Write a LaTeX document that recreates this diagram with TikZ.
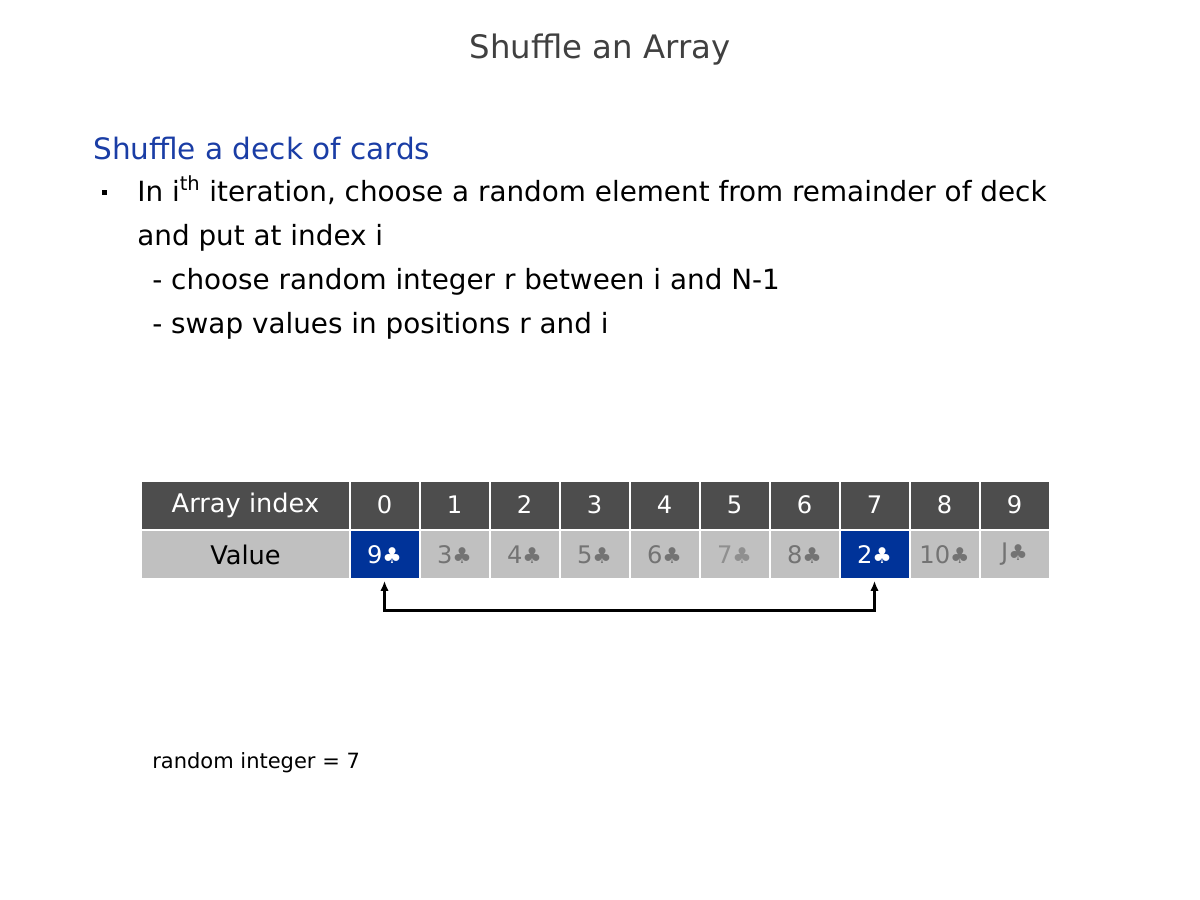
\documentclass[tikz,border=0pt]{standalone}
\usepackage{fontspec}
\setmainfont{DejaVu Sans}
\newfontfamily\symfont{DejaVu Sans}
\usetikzlibrary{arrows.meta}
\definecolor{hdr}{HTML}{4D4D4D}
\definecolor{valbg}{HTML}{C0C0C0}
\definecolor{valtx}{HTML}{737373}
\definecolor{hiblue}{HTML}{003399}
\definecolor{headblue}{HTML}{1A3DA5}
\definecolor{titlegray}{HTML}{404040}
\newcommand{\club}{{\symfont\scalebox{0.9}{♣}}}
\tikzset{
  cell/.style={minimum width=40.8pt, minimum height=28.2pt, inner sep=0pt, font=\fontsize{14.5}{16}\selectfont},
  hcell/.style={cell, fill=hdr, text=white},
  vcell/.style={cell, fill=valbg, text=valtx},
  hicell/.style={cell, fill=hiblue, text=white},
  bodytext/.style={anchor=base west, inner sep=0pt, font=\fontsize{16.7}{20}\selectfont},
}
\begin{document}
\begin{tikzpicture}[x=0.6pt, y=-0.6pt]
\useasboundingbox (0,0) rectangle (1200,900);
\node[anchor=base, inner sep=0pt, text=titlegray, font=\fontsize{19.4}{22}\selectfont] (title) at (600,58) {Shuffle an Array};
\node[bodytext, text=headblue, font=\fontsize{17.7}{22}\selectfont] (sub) at (93,159) {Shuffle a deck of cards};
\node[fill=black, minimum size=3pt, inner sep=0pt] (bullet) at (104,192) {};
\node[bodytext] (l1) at (137,201) {In i\textsuperscript{th} iteration, choose a random element from remainder of deck};
\node[bodytext] (l2) at (137,245) {and put at index i};
\node[bodytext] (l3) at (152,289) {- choose random integer r between i and N-1};
\node[bodytext] (l4) at (152,333) {- swap values in positions r and i};
% table
\node[hcell, minimum width=124.2pt, font=\fontsize{15.4}{17}\selectfont] (hlabel) at (245.5,505) {Array index};
\node[vcell, minimum width=124.2pt, text=black, font=\fontsize{15.4}{17}\selectfont] (vlabel) at (245.5,554.5) {Value};
\foreach \i in {0,...,9} {
  \node[hcell] (h\i) at ({384.5+70*\i},505) {\i};
}
\node[hicell] (v0) at (384.5,554.5) {9\club};
\node[vcell] (v1) at (454.5,554.5) {3\club};
\node[vcell] (v2) at (524.5,554.5) {4\club};
\node[vcell] (v3) at (594.5,554.5) {5\club};
\node[vcell] (v4) at (664.5,554.5) {6\club};
\node[vcell, text=valtx!80] (v5) at (734.5,554.5) {7\club};
\node[vcell] (v6) at (804.5,554.5) {8\club};
\node[hicell] (v7) at (874.5,554.5) {2\club};
\node[vcell] (v8) at (944.5,554.5) {10\club};
\node[vcell] (v9) at (1014.5,554.5) {J\club};
\coordinate (low) at (384.5,610);
\draw[line width=1.8pt, {Latex[length=6pt,width=5pt]}-{Latex[length=6pt,width=5pt]}, shorten <=1.5pt, shorten >=1.5pt]
  (v0.south) -- (low) -| (v7.south);
\node[anchor=base west, inner sep=0pt, font=\fontsize{12.6}{15}\selectfont] (rnd) at (152,768) {random integer = 7};
\end{tikzpicture}
\end{document}
